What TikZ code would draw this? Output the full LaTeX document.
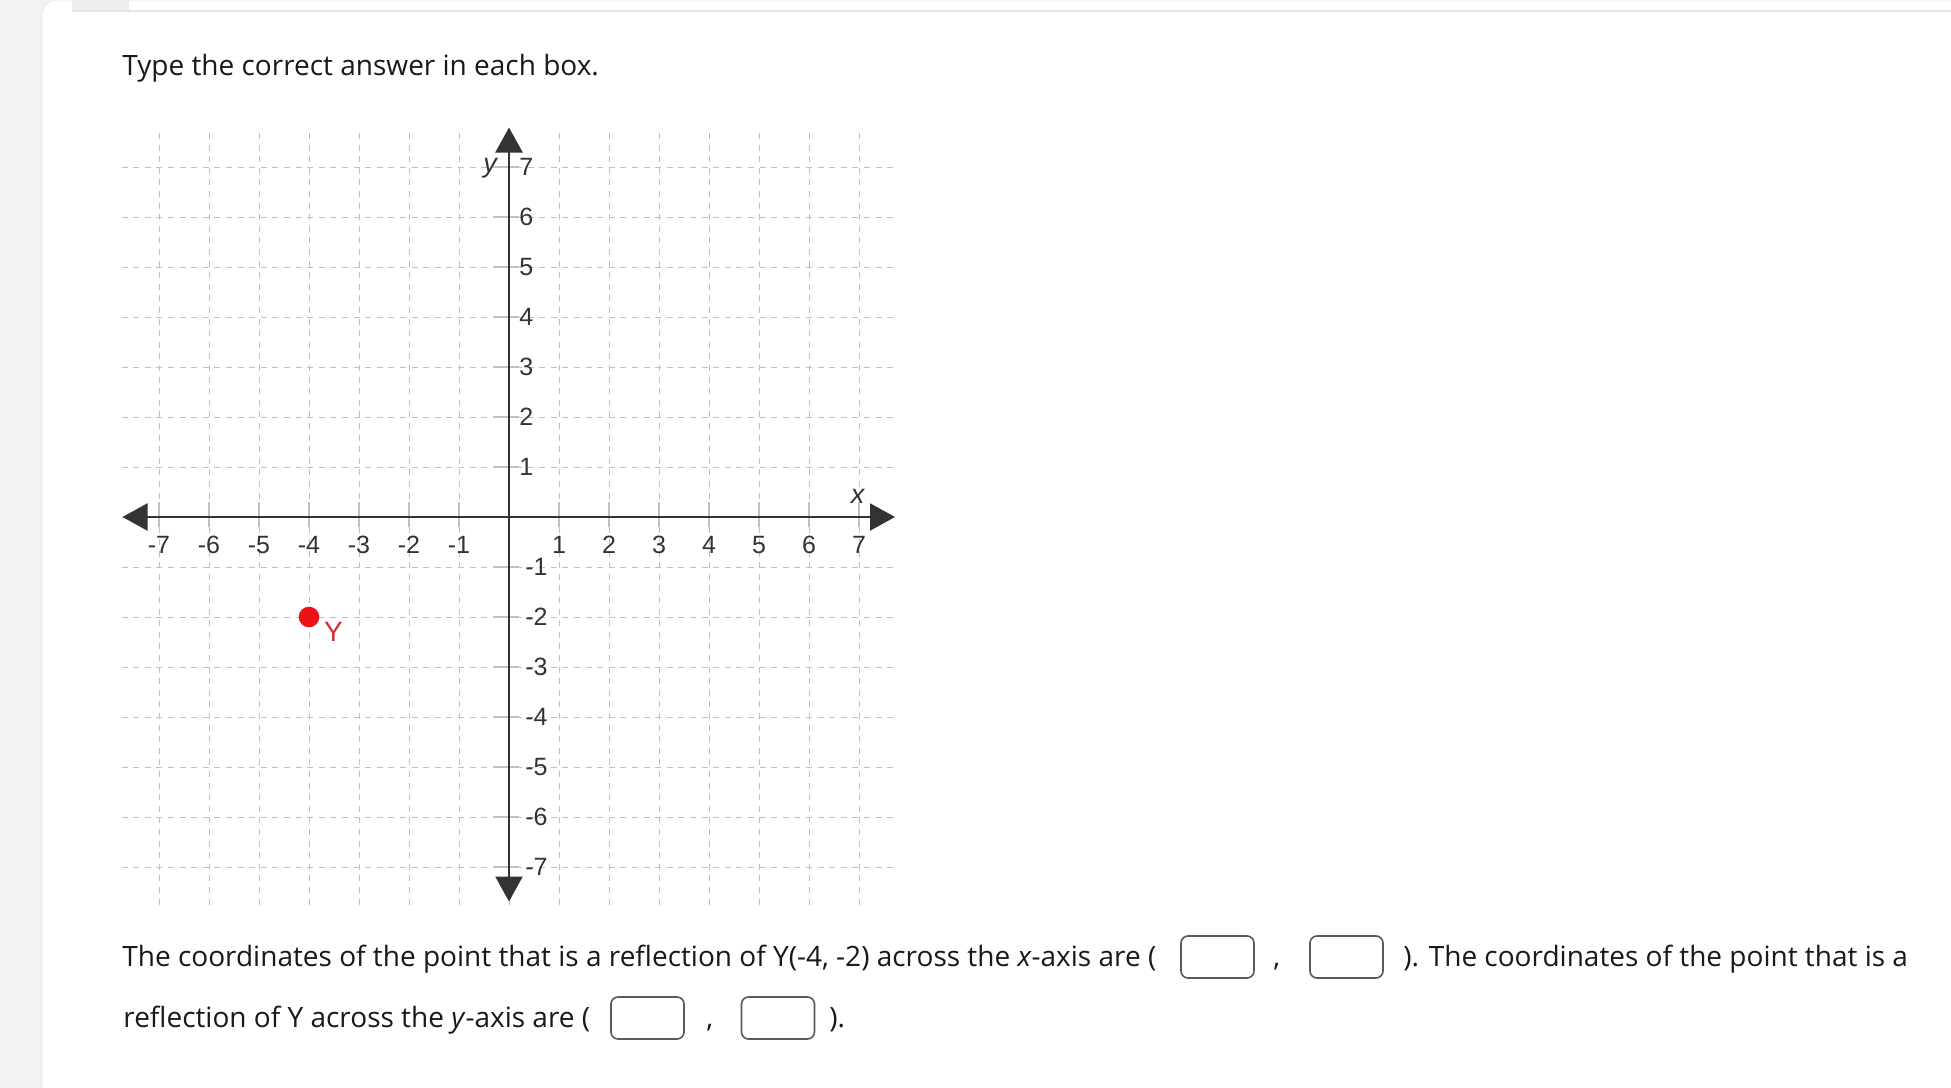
\documentclass[tikz,border=0pt]{standalone}
\usepackage{fontspec}
\setmainfont{Open Sans}
\newfontfamily\labelfont{Liberation Sans}
\usetikzlibrary{arrows.meta}
\definecolor{pagegray}{RGB}{242,242,242}
\definecolor{gridgray}{RGB}{192,192,192}
\definecolor{pointred}{RGB}{236,18,22}
\definecolor{labelred}{RGB}{208,48,48}
\tikzstyle{Axis}=[{Triangle[length=12.5pt,width=13.5pt]}-{Triangle[length=12.5pt,width=13.5pt]}, line width=1.15pt, draw=black!80]

\begin{document}
\begin{tikzpicture}[
  x=0.5pt, y=-0.5pt,
  Text/.style={anchor=base west, inner sep=0, text=black!90, font=\fontsize{14}{17}\selectfont},
  Box/.style={draw=black!65, line width=0.8pt, rounded corners=3.5pt, minimum width=36.5pt, minimum height=21pt, inner sep=0},
  Grid/.style={draw=gridgray, line width=0.5pt, dash pattern=on 3pt off 2.8pt},
  Tick/.style={draw=gridgray, line width=0.6pt},
  Num/.style={inner sep=0, text=black!80, font=\labelfont\fontsize{12.5}{12.5}\selectfont}
]
\useasboundingbox (0,0) rectangle (1951,1088);
\fill[pagegray] (0,0) rectangle (1951,1088);
\filldraw[fill=white, draw=black!8, rounded corners=7.5pt] (42,0) rectangle (1990,1130);
\fill[black!7] (72,0) rectangle (129,10);
\draw[black!10, line width=1pt] (72,11) -- (1951,11);

\node[Text] (task) at (122,75) {Type the correct answer in each box.};

\begin{scope}[shift={(509,517)}, x=25pt, y=25pt]
  \foreach \i in {-7,...,7} {
    \draw[Grid] (\i,-7.75) -- (\i,7.75);
    \draw[Grid] (-7.75,\i) -- (7.75,\i);
  }
  \foreach \i in {-7,...,-1,1,2,...,7} {
    \draw[Tick] (\i,0.3) -- (\i,-0.2);
    \draw[Tick] (-0.33,\i) -- (0.2,\i);
  }
  \coordinate (xmin) at (-7.73,0);
  \coordinate (xmax) at (7.72,0);
  \coordinate (ymin) at (0,-7.69);
  \coordinate (ymax) at (0,7.79);
  \draw[Axis] (xmin) -- (xmax);
  \draw[Axis] (ymin) -- (ymax);

  \foreach \i in {-7,...,-1,1,2,...,7}
    \node[Num] (xn\i) at (\i,-0.56) {\i};
  \foreach \i in {1,...,7}
    \node[Num, anchor=west] (yn\i) at (0.2,\i) {\i};
  \foreach \i in {-7,...,-1}
    \node[Num, anchor=west] (yn\i) at (0.32,\i) {\i};
  \node[Num, font=\labelfont\itshape\fontsize{13.5}{13.5}\selectfont] (ylab) at (-0.38,6.98) {y};
  \node[Num, font=\labelfont\itshape\fontsize{13.5}{13.5}\selectfont] (xlab) at (6.97,0.41) {x};

  \node[circle, fill=pointred, minimum size=10.3pt, inner sep=0] (Y) at (-4,-2) {};
  \node[Num, text=labelred, font=\labelfont\fontsize{14}{14}\selectfont] (Ylab) at (-3.51,-2.29) {Y};
\end{scope}

\node[Text] (l1a) at (122,966) {The coordinates of the point that is a reflection of Y(-4, -2) across the \textit{x}-axis are (};
\node[Box] (b1) at (1217.5,957) {};
\node[Text] (c1) at (1273,966) {,};
\node[Box] (b2) at (1346.5,957) {};
\node[Text] (l1b) at (1403,966) {). The coordinates of the point that is a};

\node[Text] (l2a) at (123,1027) {reflection of Y across the \textit{y}-axis are (};
\node[Box] (b3) at (647.5,1018) {};
\node[Text] (c2) at (706,1027) {,};
\node[Box] (b4) at (778,1018) {};
\node[Text] (l2b) at (829,1027) {).};
\end{tikzpicture}
\end{document}
